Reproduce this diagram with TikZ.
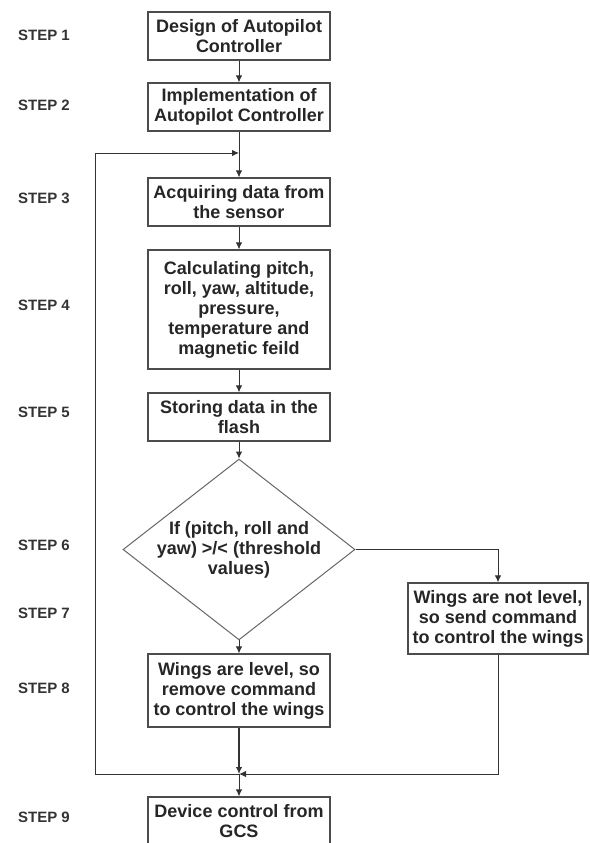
\documentclass[tikz,border=0pt]{standalone}
\usepackage{fontspec}
\setmainfont{Liberation Sans}
\usetikzlibrary{shapes.geometric,arrows.meta}

\begin{document}
\begin{tikzpicture}[x=1pt,y=-1pt,
  font=\fontsize{18}{20}\selectfont\bfseries,
  box/.style={draw=black!70, line width=1.2pt, rectangle, align=center, minimum width=182pt, inner sep=2pt, text=black!85},
  cond/.style={draw=black!60, line width=1pt, diamond, align=center, minimum width=232pt, minimum height=159pt, inner sep=-10pt, text=black!85},
  steplbl/.style={font=\fontsize{15}{18}\selectfont\bfseries, text=black!80},
  arr/.style={-{Latex[length=7pt,width=6.5pt]}, draw=black!80, line width=1pt},
  line/.style={draw=black!80, line width=1pt}]
\useasboundingbox (0,0) rectangle (589,843);
\node [steplbl] (s1) at (44,35) {STEP 1};
\node [steplbl] (s2) at (44,105) {STEP 2};
\node [steplbl] (s3) at (44,198) {STEP 3};
\node [steplbl] (s4) at (44,305) {STEP 4};
\node [steplbl] (s5) at (44,412) {STEP 5};
\node [steplbl] (s6) at (44,545) {STEP 6};
\node [steplbl] (s7) at (44,613) {STEP 7};
\node [steplbl] (s8) at (44,688) {STEP 8};
\node [steplbl] (s9) at (44,817) {STEP 9};
\node [box, minimum height=48pt] (des) at (239,36) {Design of Autopilot\\Controller};
\node [box, minimum height=48pt] (imp) at (239,107) {Implementation of\\Autopilot Controller};
\node [box, minimum height=48pt] (acq) at (239,202) {Acquiring data from\\the sensor};
\node [box, minimum height=119pt] (calc) at (239,309.5) {Calculating pitch,\\roll, yaw, altitude,\\pressure,\\temperature and\\magnetic feild};
\node [box, minimum height=48pt] (stor) at (239,417) {Storing data in the\\flash};
\node [cond] (dec) at (239,549.5) {If (pitch, roll and\\yaw) >/< (threshold\\values)};
\node [box, minimum width=180pt, minimum height=71pt] (notlvl) at (498,618.5) {Wings are not level,\\so send command\\to control the wings};
\node [box, minimum height=73pt] (lvl) at (239,690.5) {Wings are level, so\\remove command\\to control the wings};
\node [box, minimum height=49pt] (gcs) at (239,821.5) {Device control from\\GCS};
\coordinate (j) at (239,153);
\coordinate (m) at (239,774);
\coordinate (fu) at (95,153);
\coordinate (fl) at (95,774);
\draw [arr] (des) -- (imp);
\draw [arr] (imp) -- (acq);
\draw [arr] (acq) -- (calc);
\draw [arr] (calc) -- (stor);
\draw [arr] (stor) -- (dec);
\draw [arr] (dec) -- (lvl);
\draw [arr] (dec.east) -| (notlvl.north);
\draw [arr] (notlvl.south) |- (m);
\draw [arr, line width=1.6pt] (lvl) -- (m);
\draw [arr] (m) -- (gcs);
\draw [arr] (m) -- (fl) -- (fu) -- (j);
\end{tikzpicture}
\end{document}
